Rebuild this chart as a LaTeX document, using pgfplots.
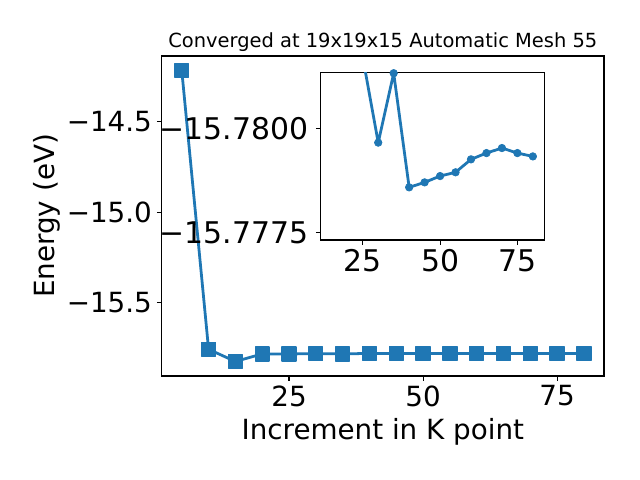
\documentclass[border=0pt]{standalone}
\usepackage{fontspec}
\setmainfont{DejaVu Sans}
\usepackage{pgfplots}
\usepackage{pgfplotstable}
\pgfplotsset{compat=1.18}
\definecolor{tabblue}{HTML}{1F77B4}
\pgfplotstableread{
k E
5 -14.218
10 -15.756
15 -15.823
20 -15.7814
25 -15.7817
30 -15.77966
35 -15.78132
40 -15.77859
45 -15.77871
50 -15.77886
55 -15.77895
60 -15.77926
65 -15.77941
70 -15.77953
75 -15.77941
80 -15.77933
}\datatable
\pgfplotsset{
  mplstyle/.style={
    scale only axis,
    tick align=outside, tick pos=left, major tick length=3.5pt,
    every tick/.style={black, line width=0.8pt},
    axis line style={line width=0.8pt},
    ticklabel style={font=\fontsize{20}{24}\selectfont},
    /pgf/number format/assume math mode=true,
    label style={font=\fontsize{20}{24}\selectfont},
  }
}
\begin{document}
\begin{tikzpicture}
\begin{axis}[mplstyle,
  at={(116.4pt,74.9pt)}, anchor=south west,
  width=318.5pt, height=230.4pt,
  xmin=1.25, xmax=83.75, ymin=-15.903, ymax=-14.138,
  xtick={25,50,75},
  ytick={-15.5,-15,-14.5}, yticklabels={−15.5,−15.0,−14.5},
  xlabel={Increment in K point}, ylabel={Energy (eV)},
  xlabel style={at={(axis description cs:0.5,-0.175)}, anchor=center},
  ylabel style={at={(axis description cs:-0.26,0.5)}, anchor=center},
  title={Converged at 19x19x15 Automatic Mesh 55},
  title style={font=\fontsize{14}{17}\selectfont, at={(axis description cs:0.5,1)}, anchor=base},
]
\addplot[color=tabblue, line width=2pt, line join=round, mark=square*,
  mark size=5pt, mark options={solid, fill=tabblue, draw=tabblue, line width=1pt}]
  table[x=k, y=E] {\datatable};
\end{axis}
% inset: energies shown in meV relative to -15.78 eV
\begin{axis}[mplstyle,
  at={(230.9pt,172.8pt)}, anchor=south west,
  width=161pt, height=120.7pt,
  axis background/.style={fill=white},
  ticklabel style={font=\fontsize{21.5}{26}\selectfont},
  yticklabel style={xshift=-2pt},
  xmin=11.4, xmax=83.7, ymin=-1.34, ymax=2.67, y dir=reverse,
  xtick={25,50,75},
  ytick={0,2.5}, yticklabels={−15.7800,−15.7775},
]
\addplot[color=tabblue, line width=2pt, line join=round, mark=*,
  mark size=2.7pt, mark options={solid, fill=tabblue, draw=tabblue, line width=0.5pt},
  restrict x to domain=14:81]
  table[x=k, y expr={(\thisrow{E}+15.78)*1000}] {\datatable};
\end{axis}
\pgfresetboundingbox
\path[use as bounding box] (0,0) rectangle (460.8pt,345.6pt);
\end{tikzpicture}
\end{document}
